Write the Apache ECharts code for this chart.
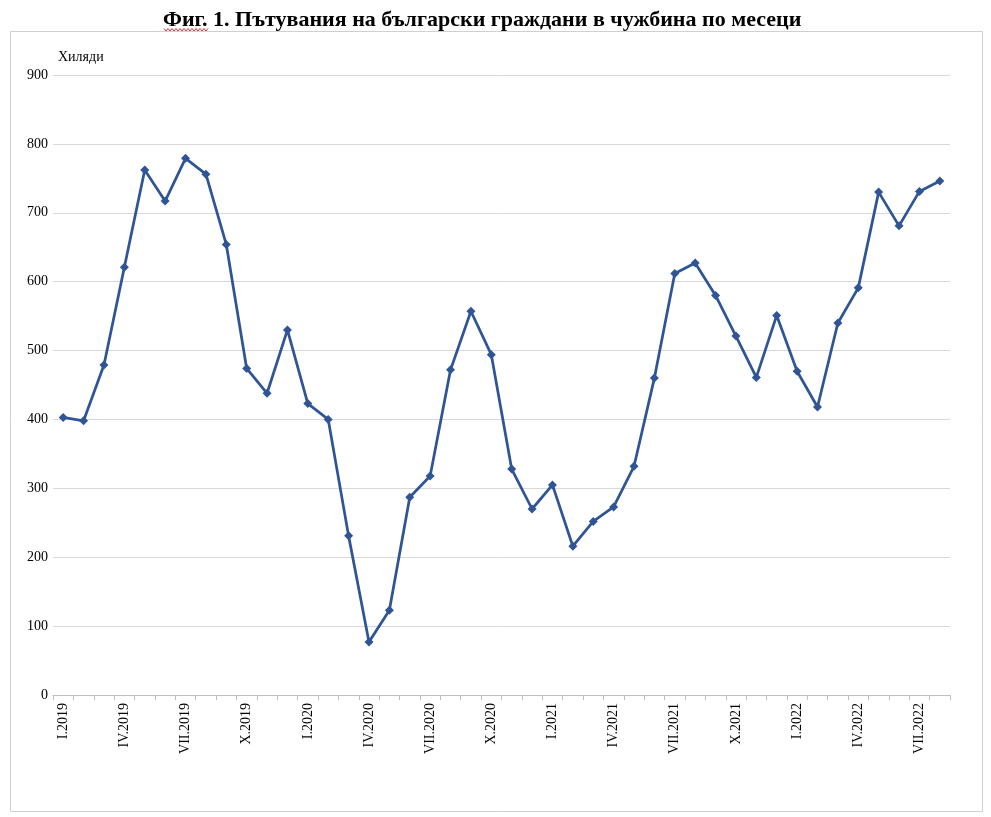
<!DOCTYPE html>
<html>
<head>
<meta charset="utf-8">
<script src="https://cdn.jsdelivr.net/npm/echarts@6/dist/echarts.min.js"></script>
<style>html,body{margin:0;padding:0;background:#fff}#c{width:991px;height:817px}</style>
</head>
<body>
<div id="c"></div>
<script>
const romans = ['I','II','III','IV','V','VI','VII','VIII','IX','X','XI','XII'];
const years = [2019, 2020, 2021, 2022];
const categories = [];
for (const y of years) {
  for (let m = 0; m < 12; m++) {
    if (y === 2022 && m > 7) break;
    categories.push(romans[m] + '.' + y);
  }
}
const trips = [403,398,479,621,762,717,779,756,654,474,438,530,
               423,400,231,77,123,287,318,472,557,494,328,270,
               305,216,252,273,332,460,612,627,580,521,461,551,
               470,418,540,591,730,681,731,746];
const yTicks = [0,100,200,300,400,500,600,700,800,900];

const chart = echarts.init(document.getElementById('c'));
const serif = '"Liberation Serif","DejaVu Serif",serif';
const wave = [];
for (let i = 0; i <= 22; i++) wave.push([164 + i * 2, i % 2 ? 31 : 28.5]);
chart.setOption({
  animation: false,
  backgroundColor: '#fff',
  title: {
    text: 'Фиг. 1. Пътувания на български граждани в чужбина по месеци',
    left: 158, top: 4,
    textStyle: {fontFamily: serif, fontWeight: 'bold', fontSize: 22, color: '#000'}
  },
  graphic: [
    {type: 'rect', shape: {x: 10.5, y: 31.5, width: 972, height: 780},
     style: {fill: 'none', stroke: '#d0d0d0', lineWidth: 1}, silent: true, z: -1},
    {type: 'polyline', shape: {points: wave},
     style: {stroke: '#e03030', lineWidth: 1, fill: 'none'}, silent: true},
    {type: 'text', left: 58, top: 50,
     style: {text: 'Хиляди', font: '14px ' + serif, fill: '#000'}}
  ],
  grid: {left: 53, right: 41, top: 75, bottom: 122, containLabel: false},
  xAxis: {
    type: 'category',
    data: categories,
    boundaryGap: true,
    axisLine: {lineStyle: {color: '#bfbfbf', width: 1}},
    axisTick: {show: true, interval: 0, length: 5, lineStyle: {color: '#bfbfbf'}},
    axisLabel: {interval: 2, rotate: 90, fontFamily: serif, fontSize: 14, color: '#000', margin: 8},
    splitLine: {show: false}
  },
  yAxis: {
    type: 'value',
    min: 0, max: 900, interval: 100,
    axisLine: {show: false},
    axisTick: {show: false},
    axisLabel: {fontFamily: serif, fontSize: 14, color: '#000', margin: 5,
      formatter: v => yTicks.includes(v) ? String(v) : ''},
    splitLine: {lineStyle: {color: '#d9d9d9', width: 1}}
  },
  series: [{
    type: 'line',
    data: trips,
    symbol: 'diamond',
    symbolSize: 9,
    lineStyle: {color: '#2f5597', width: 2.75},
    itemStyle: {color: '#2f5597'}
  }]
});
</script>
</body>
</html>
